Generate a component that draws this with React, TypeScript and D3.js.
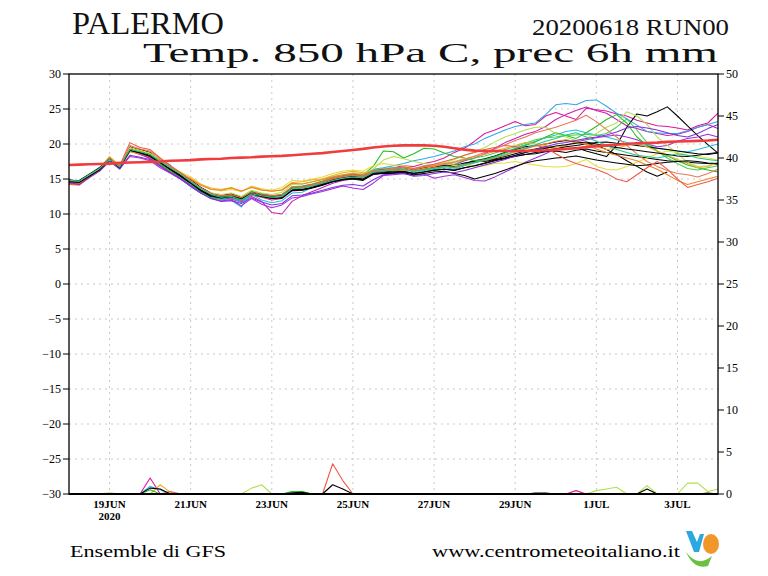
import React from "react";
import * as d3 from "d3";

// ---------- DATA ----------
const runStart = Date.UTC(2020, 5, 18, 0);
const stepHours = 6;
const nSteps = 65;

const tickDates = [
  Date.UTC(2020, 5, 19), Date.UTC(2020, 5, 21), Date.UTC(2020, 5, 23), Date.UTC(2020, 5, 25),
  Date.UTC(2020, 5, 27), Date.UTC(2020, 5, 29), Date.UTC(2020, 6, 1), Date.UTC(2020, 6, 3),
];
const tickLabels = ["19JUN", "21JUN", "23JUN", "25JUN", "27JUN", "29JUN", "1JUL", "3JUL"];
const leftTicks = [30, 25, 20, 15, 10, 5, 0, -5, -10, -15, -20, -25, -30];
const rightTicks = [50, 45, 40, 35, 30, 25, 20, 15, 10, 5, 0];

// climatological reference (thick red)
const climatology = [
  17.0, 17.05, 17.1, 17.15, 17.2, 17.3, 17.35, 17.4, 17.45, 17.5, 17.6, 17.65, 17.7, 17.8, 17.85, 17.9, 18.0,
  18.05, 18.1, 18.2, 18.25, 18.3, 18.4, 18.5, 18.6, 18.7, 18.85,
  19.0, 19.15, 19.3, 19.5, 19.65, 19.75, 19.8, 19.8, 19.8, 19.75,
  19.6, 19.4, 19.2, 19.05, 19.0, 19.0, 19.0, 19.0, 19.0, 19.05,
  19.1, 19.2, 19.3, 19.4, 19.55, 19.7, 19.8, 19.9, 20.0, 20.1,
  20.15, 20.2, 20.3, 20.35, 20.4, 20.45, 20.5, 20.6,
];

// ensemble members, T850 (C)
const member01 = [14.9,14.7,15.4,16.5,18.0,16.8,19.5,19.2,18.8,17.6,16.6,15.6,14.7,13.5,12.9,12.4,12.7,12.3,13.1,12.8,12.5,12.7,13.8,13.9,14.2,14.5,15.0,15.3,15.5,15.4,16.2,16.3,16.4,16.6,16.3,16.6,16.8,17.0,16.9,17.3,17.5,
  17.5,17.8,18.0,18.3,18.5,18.6,18.9,19.0,18.8,19.1,19.3,19.0,18.8,18.6,18.4,18.2,18.0,17.8,17.6,17.5,17.4,17.3,17.2,17.1];
const member02 = [14.6,14.5,15.6,16.3,18.1,16.6,19.6,19.0,18.5,17.8,16.5,15.7,14.6,13.6,12.8,12.6,12.8,12.2,13.2,12.7,12.4,12.6,13.7,13.8,14.0,14.4,15.0,15.2,15.4,15.2,16.1,16.2,16.4,16.5,16.2,16.4,16.7,16.9,16.6,17.1,17.4,
  17.6,17.9,18.2,18.6,19.0,19.3,19.6,19.4,19.2,19.5,19.0,18.6,18.2,19.8,22.4,24.3,24.0,24.6,25.3,24.0,22.6,21.2,19.9,18.7];
const member03 = [14.8,14.6,15.3,16.4,17.8,16.9,19.4,19.1,18.6,17.7,16.8,15.9,14.9,13.8,13.0,12.6,12.9,12.4,13.0,12.9,12.6,12.4,13.5,13.7,14.1,14.4,14.9,15.2,15.6,15.3,16.0,16.0,16.1,16.4,16.1,16.5,16.6,16.8,16.8,17.2,17.6,
  17.9,18.3,18.8,19.2,19.6,19.8,20.0,20.3,20.5,20.3,20.0,19.8,19.2,18.5,17.6,16.8,16.0,15.4,16.0,null,null,null,null,null];
const member04 = [14.5,14.4,15.5,16.2,17.7,16.5,19.2,18.8,18.3,17.4,16.5,15.5,14.5,13.4,12.6,12.3,12.5,12.0,12.9,12.5,12.2,12.4,13.4,13.5,13.8,14.2,14.7,15.0,15.2,15.0,15.8,15.9,16.0,16.1,15.8,16.0,16.3,16.4,16.2,16.6,16.9,
  17.2,17.6,17.9,18.2,18.5,18.8,19.0,19.3,19.6,19.8,20.0,20.2,20.3,20.1,20.0,19.8,19.6,19.4,19.2,19.0,18.8,18.6,18.5,18.7];
const member05 = [14.6,14.8,15.7,16.6,17.9,16.6,19.1,18.7,18.2,17.3,16.3,15.4,14.4,13.3,12.5,12.4,12.6,12.2,12.9,12.6,12.3,12.3,13.4,13.4,13.7,14.1,14.6,14.9,15.0,14.8,15.7,15.8,15.8,15.9,15.6,15.8,16.0,16.1,15.8,15.5,15.0,
  15.4,15.8,16.3,16.8,17.3,17.6,17.8,18.0,18.1,18.3,18.0,17.7,17.5,17.3,17.1,16.9,17.0,17.2,17.4,17.5,17.6,17.5,17.3,17.2];
const member06 = [14.3,14.2,15.3,16.2,17.6,16.8,19.0,18.5,18.0,17.0,16.0,15.1,14.1,13.1,12.3,12.1,12.3,11.8,12.7,12.4,12.0,12.2,13.3,13.4,13.8,14.3,14.9,15.4,15.7,15.5,16.2,16.4,16.6,16.9,16.8,17.2,17.5,18.0,18.8,19.4,20.4,
  21.5,22.0,22.6,23.2,22.6,22.8,24.0,24.5,24.0,23.5,25.1,24.9,24.7,24.3,24.0,23.4,23.0,22.6,22.5,22.3,22.0,22.6,23.0,24.4];
const member07 = [14.4,14.3,15.4,16.3,17.8,16.6,19.0,18.6,17.9,16.9,15.9,15.0,14.0,13.0,12.4,12.2,12.1,11.7,12.5,11.8,10.2,10.0,11.8,12.6,13.2,13.8,14.4,14.8,15.0,14.9,15.6,15.9,16.2,16.5,16.3,16.7,17.0,17.2,17.0,17.6,18.0,
  18.6,19.4,20.2,20.8,21.4,21.8,22.5,23.5,24.2,24.8,25.3,24.8,24.4,23.5,22.6,22.2,21.8,21.5,21.2,21.4,21.8,22.4,22.8,22.2];
const member08 = [14.8,14.6,15.6,16.6,18.0,16.9,19.0,18.7,18.5,17.8,17.0,15.0,13.9,13.0,12.4,12.1,12.0,11.0,12.9,12.5,12.3,12.6,13.7,13.8,14.0,14.5,15.0,15.3,15.6,15.5,16.4,16.6,16.9,17.2,17.6,17.9,18.2,18.6,19.0,19.6,20.0,
  20.8,21.4,22.0,22.5,22.8,23.0,24.2,25.6,25.8,25.6,26.2,26.3,25.4,24.4,23.6,22.7,21.8,21.6,21.5,21.5,21.9,22.4,22.8,23.2];
const member09 = [14.6,14.5,15.4,16.4,17.8,16.7,19.2,18.8,18.4,17.5,16.7,15.6,14.3,13.2,12.4,12.3,12.4,11.6,12.8,12.0,11.6,11.9,13.0,13.1,13.8,14.1,14.6,14.9,15.1,15.0,15.8,15.9,16.0,16.1,15.9,16.2,16.4,16.6,16.4,16.9,17.3,
  17.8,18.3,18.8,19.4,19.9,20.4,20.9,21.3,21.8,22.0,21.6,21.3,21.0,20.6,20.2,20.0,19.8,19.4,19.2,19.0,18.9,19.2,19.6,20.0];
const member10 = [14.4,14.3,15.2,16.1,17.5,16.5,18.2,18.0,17.6,16.6,15.8,15.0,14.0,13.0,12.2,11.9,12.0,11.2,12.2,11.4,10.9,11.3,12.3,12.5,12.9,13.2,13.6,14.0,13.7,13.5,14.4,15.5,15.6,15.8,15.5,15.7,15.1,15.4,15.6,15.2,14.8,
  14.7,15.3,16.0,16.7,17.4,18.0,18.6,19.3,19.8,20.3,20.6,20.9,21.1,21.3,21.0,20.6,20.0,19.6,19.8,20.4,20.8,21.0,21.4,21.0];
const member11 = [14.7,14.5,15.3,16.3,17.7,16.6,19.0,18.7,18.2,17.1,16.1,15.3,14.3,13.2,12.3,12.2,12.4,12.0,12.9,12.6,12.4,12.6,13.9,14.0,14.3,14.7,15.2,15.5,15.7,15.6,16.8,19.0,18.9,18.0,18.6,19.4,19.3,18.7,18.2,18.0,17.6,
  17.8,18.2,18.7,19.3,19.8,20.3,21.0,21.6,21.2,20.8,21.6,22.5,23.5,24.2,23.0,21.0,19.8,19.0,18.3,17.6,17.0,16.6,16.3,16.0];
const member12 = [14.5,14.6,15.6,16.5,17.9,16.8,19.3,18.8,18.3,17.4,16.5,15.6,14.5,13.5,12.8,12.6,12.7,12.3,13.3,12.9,12.6,12.8,13.9,13.8,14.1,14.6,15.1,15.4,15.6,15.4,16.3,16.5,16.6,16.7,16.5,16.9,17.1,17.3,17.1,17.7,18.0,
  18.3,18.7,19.2,19.6,20.1,20.6,20.9,21.0,21.2,21.3,21.4,21.2,21.5,22.4,23.6,22.0,20.2,19.0,18.0,17.2,16.5,16.3,16.6,16.9];
const member13 = [14.6,14.4,15.5,16.3,17.8,16.9,19.4,19.0,18.6,17.6,16.4,15.6,14.6,13.6,13.0,12.8,13.0,12.5,13.4,13.0,12.8,13.1,14.2,14.3,14.6,15.0,15.4,15.6,15.9,15.8,16.4,17.7,18.2,17.9,17.5,17.2,17.0,17.3,17.8,18.4,18.9,
  19.5,20.3,21.0,21.5,22.0,22.4,22.4,21.5,21.0,20.5,20.8,21.5,22.4,23.0,24.6,24.0,22.8,21.0,19.8,18.6,17.4,16.8,16.9,17.3];
const member14 = [14.8,14.7,15.7,16.6,18.2,17.0,19.5,19.1,18.7,17.8,16.8,16.0,15.3,14.3,13.6,13.3,13.5,13.2,14.0,13.6,13.4,13.8,14.8,14.7,15.0,15.3,15.8,16.1,16.3,16.1,16.9,17.2,17.0,16.9,16.5,16.8,17.0,17.3,16.9,17.1,16.8,
  16.9,17.2,17.3,17.5,17.2,17.0,16.8,16.7,16.8,17.2,17.8,16.8,16.4,16.3,16.8,17.4,18.0,18.6,19.0,18.8,18.4,18.2,18.0,17.7];
const member15 = [14.5,14.4,15.4,16.4,18.2,16.8,19.1,18.8,18.4,17.6,16.6,15.8,15.1,14.2,13.7,13.5,13.8,13.2,13.9,13.5,13.2,13.5,14.5,14.6,14.9,15.0,15.5,15.9,16.1,15.9,16.1,16.2,16.4,16.5,16.2,16.5,16.8,17.1,17.5,17.9,18.2,
  18.5,19.0,19.4,19.8,20.2,20.0,19.8,19.5,19.8,20.3,20.0,19.6,19.2,19.4,19.8,20.0,19.6,19.0,18.4,17.8,17.2,16.6,16.8,17.4];
const member16 = [14.2,14.1,15.2,16.2,17.6,16.5,18.9,18.6,18.2,17.4,16.5,15.7,15.0,14.1,13.5,13.4,13.7,13.3,13.8,13.4,13.3,13.4,14.4,14.3,14.6,14.9,15.3,15.6,15.8,15.6,16.1,16.2,16.2,16.3,16.1,16.4,16.6,16.8,16.6,17.0,17.4,
  17.6,18.0,18.4,18.9,19.3,19.7,20.0,20.4,20.6,20.4,19.9,19.3,18.8,18.4,18.0,17.6,17.0,16.4,15.6,14.8,14.2,14.6,15.0,15.4];
const member17 = [14.3,14.3,15.4,16.3,17.9,16.9,20.2,19.5,19.2,18.0,16.9,15.9,14.8,13.7,12.9,12.6,12.8,12.3,13.1,12.8,12.6,12.8,13.8,13.9,14.2,14.6,15.1,15.4,15.6,15.4,16.2,16.3,16.5,16.7,16.5,16.8,17.1,17.5,17.9,18.4,18.8,
  19.2,19.5,19.8,19.6,19.4,19.8,19.5,18.6,17.8,17.2,16.8,16.4,15.8,15.0,14.6,15.6,16.6,17.5,16.4,15.0,13.8,14.2,14.6,15.1];
const member18 = [14.6,14.5,15.5,16.4,17.9,16.6,19.8,19.3,19.0,17.9,16.7,15.8,14.7,13.7,12.9,12.5,12.6,12.0,12.8,12.5,12.2,12.5,13.6,13.7,14.1,14.5,15.0,15.3,15.5,15.3,16.1,16.3,16.5,16.6,16.4,16.7,16.9,17.2,17.4,17.8,18.3,
  18.8,19.3,19.9,20.5,21.0,21.6,22.0,22.4,22.9,23.4,24.1,23.2,22.1,21.0,19.8,18.6,17.5,16.8,16.2,15.8,15.6,15.3,15.8,16.4];
const member19 = [14.5,14.2,15.2,16.2,17.6,16.4,18.4,18.1,17.8,16.8,15.9,15.1,14.0,13.0,12.2,11.8,11.9,11.5,12.3,11.7,11.3,11.5,12.6,12.7,13.0,13.4,13.8,14.1,14.2,14.0,14.9,15.6,15.7,15.8,15.4,15.5,15.8,16.0,15.9,16.2,16.6,
  17.0,17.4,17.8,18.3,18.8,19.2,19.6,20.0,20.2,20.5,20.8,21.0,21.3,21.7,22.3,22.5,22.3,22.0,21.6,21.2,21.0,21.5,22.2,22.8];
const member20 = [14.8,14.7,15.6,16.5,17.8,16.7,19.2,18.9,18.5,17.5,16.6,15.7,14.6,13.6,12.8,12.4,12.5,12.0,12.9,12.6,12.4,12.5,13.6,13.7,14.0,14.4,14.8,15.1,15.3,15.2,16.0,16.2,16.3,16.4,16.1,16.3,16.5,16.8,16.7,17.1,17.4,
  17.7,18.1,18.5,19.0,19.4,19.9,20.4,20.8,21.3,21.6,21.0,20.4,19.8,19.2,18.8,18.4,18.2,18.0,18.3,18.6,18.4,18.0,17.8,17.6];
const member21 = [14.6,14.5,15.4,16.3,17.8,16.6,19.1,18.8,18.4,17.4,16.4,15.5,14.5,13.4,12.7,12.4,12.5,12.1,12.9,12.5,12.2,12.3,13.4,13.5,13.8,14.2,14.6,14.9,15.1,14.9,15.7,15.8,15.9,16.0,15.8,16.0,16.2,16.4,16.3,16.6,16.9,
  17.3,17.7,18.0,18.4,18.8,19.1,19.4,19.7,19.9,20.1,20.3,20.0,19.7,19.5,19.3,19.1,18.9,18.7,18.5,18.3,18.2,18.4,18.6,18.8];

// drawing order (member order as plotted) and colours
const memberSeries = [
  member06, member01, member07, member08, member02, member09, member10, member03, member11,
  member12, member13, member04, member14, member15, member16, member05, member17, member18,
  member19, member21, member20,
];
const memberColors = [
  "#e0189a", "#000000", "#c820b0", "#30a8e8", "#000000", "#20c0d8", "#a030d8", "#000000", "#20c020",
  "#50c850", "#b0e050", "#000000", "#e6dc32", "#e8b030", "#f08228", "#000000", "#f05848", "#e87858",
  "#8030e0", "#000000", "#20c890",
];

// 6h precipitation (mm): [step index, value], zero elsewhere
const precipYellowGreen: [number, number][] = [[4, 0.15], [18, 0.7], [19, 1.1], [52, 0.4], [53, 0.6], [54, 0.8], [57, 1.0], [61, 1.3], [62, 1.3], [63, 0.3], [64, 0.6]];
const precipMagenta: [number, number][] = [[8, 1.9], [50, 0.4]];
const precipCyan: [number, number][] = [[8, 0.9], [9, 0.5]];
const precipGold: [number, number][] = [[9, 1.1], [10, 0.2]];
const precipGreen: [number, number][] = [[8, 0.5], [22, 0.3], [23, 0.3]];
const precipRed: [number, number][] = [[10, 0.3], [26, 3.6], [27, 1.6]];
const precipBlack: [number, number][] = [[8, 0.7], [9, 0.6], [22, 0.15], [23, 0.2], [26, 1.1], [27, 0.6], [46, 0.1], [47, 0.1], [57, 0.6], [63, 0.1]];

const precipSeries = [
  { pairs: precipYellowGreen, color: "#b0e050" },
  { pairs: precipMagenta, color: "#e0189a" },
  { pairs: precipCyan, color: "#30a8e8" },
  { pairs: precipGold, color: "#e8b030" },
  { pairs: precipGreen, color: "#20c020" },
  { pairs: precipRed, color: "#f05848" },
  { pairs: precipBlack, color: "#000000" },
];

// ---------- LAYOUT ----------
const W = 768, H = 576;
const L = 69, R = 718, T = 74, B = 494;

export default function App() {
  const x = d3.scaleUtc().domain([runStart, runStart + (nSteps - 1) * stepHours * 3600e3]).range([L, R]);
  const yT = d3.scaleLinear().domain([-30, 30]).range([B, T]);
  const yP = d3.scaleLinear().domain([0, 50]).range([B, T]);
  const tAt = (i: number) => runStart + i * stepHours * 3600e3;

  const tempLine = d3.line<number | null>()
    .defined((d) => d != null)
    .x((_, i) => x(tAt(i)))
    .y((d) => yT(d as number));

  const precLine = d3.line<number>()
    .x((_, i) => x(tAt(i)))
    .y((d) => yP(d));

  const expand = (pairs: [number, number][]) => {
    const arr = new Array(nSteps).fill(0);
    pairs.forEach(([i, v]) => (arr[i] = v));
    return arr;
  };

  const serif = "'Liberation Serif', 'DejaVu Serif', serif";

  return (
    <div style={{ position: "absolute", left: 0, top: 0, width: W, height: H, background: "#fff" }}>
      <svg width={W} height={H} style={{ display: "block" }}>
        <rect x={0} y={0} width={W} height={H} fill="#fff" />
        {/* titles */}
        <text x={72} y={34} fontFamily={serif} fontSize={31} textLength={152} lengthAdjust="spacingAndGlyphs" fill="#111">PALERMO</text>
        <text x={532} y={35} fontFamily={serif} fontSize={24} textLength={197} lengthAdjust="spacingAndGlyphs" fill="#111">20200618 RUN00</text>
        <text x={143} y={62} fontFamily={serif} fontSize={28} textLength={575} lengthAdjust="spacingAndGlyphs" fill="#111">Temp. 850 hPa C, prec 6h mm</text>

        {/* grid */}
        <g stroke="#c8c8c8" strokeWidth={1} strokeDasharray="2,4">
          {leftTicks.filter((v) => v > -30 && v < 30).map((v) => (
            <line key={"h" + v} x1={L} x2={R} y1={yT(v)} y2={yT(v)} />
          ))}
          {tickDates.map((d) => (
            <line key={"v" + d} x1={x(d)} x2={x(d)} y1={T} y2={B} />
          ))}
        </g>

        {/* precipitation */}
        <g fill="none" strokeWidth={1.1} strokeLinejoin="round">
          {precipSeries.map((s, k) => (
            <path key={"p" + k} d={precLine(expand(s.pairs)) || ""} stroke={s.color} />
          ))}
        </g>

        {/* ensemble members */}
        <g fill="none" strokeWidth={1.05} strokeLinejoin="round">
          {memberSeries.map((m, k) => (
            <path key={"m" + k} d={tempLine(m) || ""} stroke={memberColors[k]} />
          ))}
        </g>
        <path d={tempLine(climatology) || ""} fill="none" stroke="#f03c3c" strokeWidth={2.6} />

        {/* frame */}
        <rect x={L} y={T} width={R - L} height={B - T} fill="none" stroke="#000" strokeWidth={1.3} />
        <line x1={L} x2={R} y1={B} y2={B} stroke="#000" strokeWidth={2} />

        {/* left axis */}
        <g fontFamily={serif} fontSize={12} fill="#000">
          {leftTicks.map((v) => (
            <g key={"l" + v}>
              <line x1={L - 6} x2={L} y1={yT(v)} y2={yT(v)} stroke="#000" strokeWidth={1} />
              <text x={L - 8} y={yT(v)} dy="0.35em" textAnchor="end">{v < 0 ? "\u2212" + Math.abs(v) : String(v)}</text>
            </g>
          ))}
        </g>
        {/* right axis */}
        <g fontFamily={serif} fontSize={12} fill="#000">
          {rightTicks.map((v) => (
            <g key={"r" + v}>
              <line x1={R} x2={R + 6} y1={yP(v)} y2={yP(v)} stroke="#000" strokeWidth={1} />
              <text x={R + 8} y={yP(v)} dy="0.35em" textAnchor="start">{String(v)}</text>
            </g>
          ))}
        </g>
        {/* bottom axis labels */}
        <g fontFamily={serif} fontSize={11} fontWeight="bold" fill="#000" textAnchor="middle">
          {tickDates.map((d, k) => (
            <text key={"x" + d} x={x(d)} y={508}>{tickLabels[k]}</text>
          ))}
          <text x={x(tickDates[0])} y={520}>2020</text>
        </g>

        {/* footer */}
        <text x={70} y={557} fontFamily={serif} fontSize={16} textLength={156} lengthAdjust="spacingAndGlyphs" fill="#000">Ensemble di GFS</text>
        <text x={432} y={557} fontFamily={serif} fontSize={16} textLength={248} lengthAdjust="spacingAndGlyphs" fill="#000">www.centrometeoitaliano.it</text>
        {/* logo */}
        <g>
          <path d="M686,531 L692,531 L697,542 L700,534 L704,534 L699,552 L694,552 Z" fill="#2aa8e0" />
          <ellipse cx={711} cy={544} rx={8} ry={10} fill="#f0962a" />
          <path d="M686,552 Q698,568 712,556 L708,566 Q694,570 686,552 Z" fill="#6cc040" />
        </g>
      </svg>
    </div>
  );
}
